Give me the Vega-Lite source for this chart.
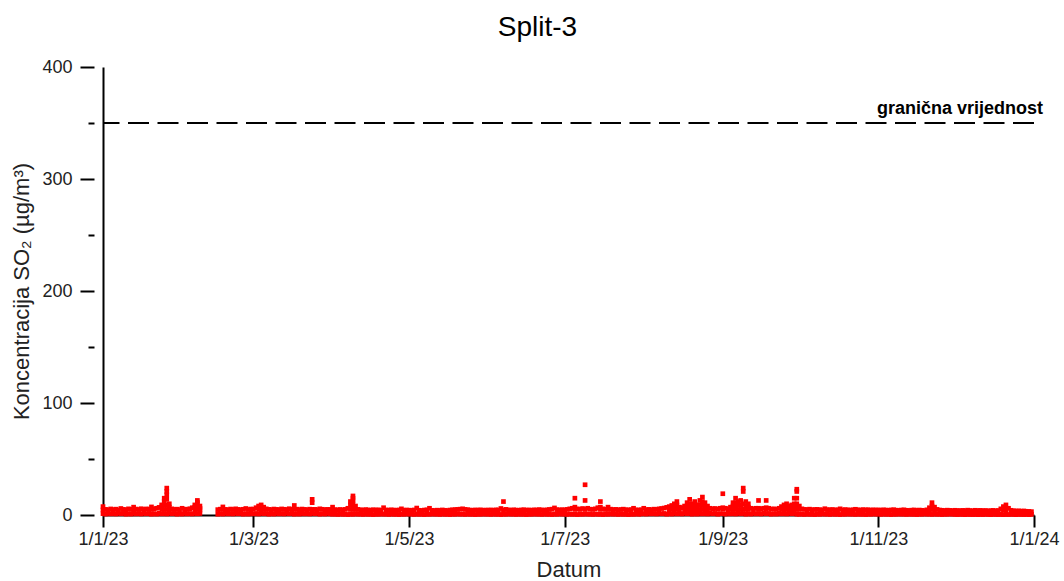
{
"$schema":"https://vega.github.io/schema/vega-lite/v6.json",
"autosize":{"type":"none"},
"padding":{"left":103,"top":67,"right":30,"bottom":66},
"width":931,"height":448,
"title":{"text":"Split-3","fontSize":28,"font":"Liberation Sans","fontWeight":"normal","color":"black","anchor":"middle","frame":"group","dx":-31,"offset":16},
"config":{"font":"Liberation Sans","view":{"stroke":null},"axis":{"grid":false}},
"resolve":{"axis":{"y":"independent"}},
"layer":[
{"data":{"values":[
{"t":"2023-01-01","v":7.5},{"t":"2023-01-01","v":1.2},{"t":"2023-01-02","v":5.0},{"t":"2023-01-02","v":0.8},{"t":"2023-01-03","v":4.6},{"t":"2023-01-03","v":1.5},{"t":"2023-01-04","v":5.4},{"t":"2023-01-04","v":1.0},{"t":"2023-01-05","v":4.8},{"t":"2023-01-05","v":1.3},{"t":"2023-01-06","v":5.2},{"t":"2023-01-06","v":0.9},{"t":"2023-01-07","v":4.5},{"t":"2023-01-07","v":1.6},{"t":"2023-01-08","v":5.8},{"t":"2023-01-08","v":1.1},{"t":"2023-01-09","v":5.0},{"t":"2023-01-09","v":1.4},{"t":"2023-01-10","v":4.7},{"t":"2023-01-10","v":0.7},
{"t":"2023-01-11","v":5.5},{"t":"2023-01-11","v":1.2},{"t":"2023-01-12","v":5.1},{"t":"2023-01-12","v":0.8},{"t":"2023-01-13","v":7.0},{"t":"2023-01-13","v":1.5},{"t":"2023-01-14","v":5.3},{"t":"2023-01-14","v":1.0},{"t":"2023-01-15","v":4.9},{"t":"2023-01-15","v":1.3},{"t":"2023-01-16","v":5.6},{"t":"2023-01-16","v":0.9},{"t":"2023-01-17","v":5.0},{"t":"2023-01-17","v":1.6},{"t":"2023-01-18","v":5.4},{"t":"2023-01-18","v":1.1},{"t":"2023-01-19","v":5.2},{"t":"2023-01-19","v":1.4},{"t":"2023-01-20","v":7.2},{"t":"2023-01-20","v":0.7},
{"t":"2023-01-21","v":5.5},{"t":"2023-01-21","v":1.2},{"t":"2023-01-22","v":6.0},{"t":"2023-01-22","v":0.8},{"t":"2023-01-23","v":6.8},{"t":"2023-01-23","v":1.5},{"t":"2023-01-24","v":9.0},{"t":"2023-01-24","v":1.0},{"t":"2023-01-25","v":12.0},{"t":"2023-01-25","v":1.3},{"t":"2023-01-26","v":24.0},{"t":"2023-01-26","v":0.9},{"t":"2023-01-27","v":10.0},{"t":"2023-01-27","v":1.6},{"t":"2023-01-28","v":5.5},{"t":"2023-01-28","v":1.1},{"t":"2023-01-29","v":5.0},{"t":"2023-01-29","v":1.4},{"t":"2023-01-30","v":5.2},{"t":"2023-01-30","v":0.7},{"t":"2023-01-31","v":4.8},{"t":"2023-01-31","v":1.2},
{"t":"2023-02-01","v":6.0},{"t":"2023-02-01","v":0.8},{"t":"2023-02-02","v":5.2},{"t":"2023-02-02","v":1.5},{"t":"2023-02-03","v":5.0},{"t":"2023-02-03","v":1.0},{"t":"2023-02-04","v":5.6},{"t":"2023-02-04","v":1.3},{"t":"2023-02-05","v":6.5},{"t":"2023-02-05","v":0.9},{"t":"2023-02-06","v":9.0},{"t":"2023-02-06","v":1.6},{"t":"2023-02-07","v":13.0},{"t":"2023-02-07","v":1.1},{"t":"2023-02-08","v":8.0},{"t":"2023-02-08","v":1.4},
{"t":"2023-02-15","v":4.8},{"t":"2023-02-15","v":0.7},{"t":"2023-02-16","v":5.2},{"t":"2023-02-16","v":1.2},{"t":"2023-02-17","v":7.2},{"t":"2023-02-17","v":0.8},{"t":"2023-02-18","v":5.0},{"t":"2023-02-18","v":1.5},{"t":"2023-02-19","v":4.6},{"t":"2023-02-19","v":1.0},{"t":"2023-02-20","v":5.3},{"t":"2023-02-20","v":1.3},{"t":"2023-02-21","v":4.9},{"t":"2023-02-21","v":0.9},{"t":"2023-02-22","v":5.5},{"t":"2023-02-22","v":1.6},{"t":"2023-02-23","v":5.0},{"t":"2023-02-23","v":1.1},{"t":"2023-02-24","v":4.7},{"t":"2023-02-24","v":1.4},{"t":"2023-02-25","v":5.1},{"t":"2023-02-25","v":0.7},{"t":"2023-02-26","v":5.8},{"t":"2023-02-26","v":1.2},{"t":"2023-02-27","v":4.9},{"t":"2023-02-27","v":0.8},{"t":"2023-02-28","v":5.3},{"t":"2023-02-28","v":1.5},
{"t":"2023-03-01","v":5.2},{"t":"2023-03-01","v":1.0},{"t":"2023-03-02","v":6.5},{"t":"2023-03-02","v":1.3},{"t":"2023-03-03","v":8.0},{"t":"2023-03-03","v":0.9},{"t":"2023-03-04","v":9.0},{"t":"2023-03-04","v":1.6},{"t":"2023-03-05","v":7.0},{"t":"2023-03-05","v":1.1},{"t":"2023-03-06","v":5.5},{"t":"2023-03-06","v":1.4},{"t":"2023-03-07","v":5.0},{"t":"2023-03-07","v":0.7},{"t":"2023-03-08","v":4.8},{"t":"2023-03-08","v":1.2},{"t":"2023-03-09","v":5.3},{"t":"2023-03-09","v":0.8},{"t":"2023-03-10","v":5.0},{"t":"2023-03-10","v":1.5},
{"t":"2023-03-11","v":4.7},{"t":"2023-03-11","v":1.0},{"t":"2023-03-12","v":5.4},{"t":"2023-03-12","v":1.3},{"t":"2023-03-13","v":5.1},{"t":"2023-03-13","v":0.9},{"t":"2023-03-14","v":4.9},{"t":"2023-03-14","v":1.6},{"t":"2023-03-15","v":5.6},{"t":"2023-03-15","v":1.1},{"t":"2023-03-16","v":5.0},{"t":"2023-03-16","v":1.4},{"t":"2023-03-17","v":8.5},{"t":"2023-03-17","v":0.7},{"t":"2023-03-18","v":5.2},{"t":"2023-03-18","v":1.2},{"t":"2023-03-19","v":4.8},{"t":"2023-03-19","v":0.8},{"t":"2023-03-20","v":5.3},{"t":"2023-03-20","v":1.5},
{"t":"2023-03-21","v":5.0},{"t":"2023-03-21","v":1.0},{"t":"2023-03-22","v":4.6},{"t":"2023-03-22","v":1.3},{"t":"2023-03-23","v":5.2},{"t":"2023-03-23","v":0.9},{"t":"2023-03-24","v":14.0},{"t":"2023-03-24","v":1.6},{"t":"2023-03-25","v":5.0},{"t":"2023-03-25","v":1.1},{"t":"2023-03-26","v":4.8},{"t":"2023-03-26","v":1.4},{"t":"2023-03-27","v":5.5},{"t":"2023-03-27","v":0.7},{"t":"2023-03-28","v":5.1},{"t":"2023-03-28","v":1.2},{"t":"2023-03-29","v":4.7},{"t":"2023-03-29","v":0.8},{"t":"2023-03-30","v":5.0},{"t":"2023-03-30","v":1.5},{"t":"2023-03-31","v":4.9},{"t":"2023-03-31","v":1.0},
{"t":"2023-04-01","v":7.0},{"t":"2023-04-01","v":0.7},{"t":"2023-04-02","v":4.8},{"t":"2023-04-02","v":0.9},{"t":"2023-04-03","v":4.5},{"t":"2023-04-03","v":0.5},{"t":"2023-04-04","v":4.9},{"t":"2023-04-04","v":1.0},{"t":"2023-04-05","v":4.6},{"t":"2023-04-05","v":0.6},{"t":"2023-04-06","v":5.0},{"t":"2023-04-06","v":0.8},{"t":"2023-04-07","v":6.0},{"t":"2023-04-07","v":0.4},{"t":"2023-04-08","v":12.0},{"t":"2023-04-08","v":0.9},{"t":"2023-04-09","v":17.0},{"t":"2023-04-09","v":0.6},{"t":"2023-04-10","v":8.0},{"t":"2023-04-10","v":1.1},
{"t":"2023-04-11","v":5.0},{"t":"2023-04-11","v":0.7},{"t":"2023-04-12","v":4.6},{"t":"2023-04-12","v":0.9},{"t":"2023-04-13","v":4.4},{"t":"2023-04-13","v":0.5},{"t":"2023-04-14","v":4.8},{"t":"2023-04-14","v":1.0},{"t":"2023-04-15","v":4.5},{"t":"2023-04-15","v":0.6},{"t":"2023-04-16","v":4.3},{"t":"2023-04-16","v":0.8},{"t":"2023-04-17","v":4.7},{"t":"2023-04-17","v":0.4},{"t":"2023-04-18","v":4.4},{"t":"2023-04-18","v":0.9},{"t":"2023-04-19","v":4.6},{"t":"2023-04-19","v":0.6},{"t":"2023-04-20","v":4.2},{"t":"2023-04-20","v":1.1},
{"t":"2023-04-21","v":6.5},{"t":"2023-04-21","v":0.7},{"t":"2023-04-22","v":4.5},{"t":"2023-04-22","v":0.9},{"t":"2023-04-23","v":4.3},{"t":"2023-04-23","v":0.5},{"t":"2023-04-24","v":4.6},{"t":"2023-04-24","v":1.0},{"t":"2023-04-25","v":4.4},{"t":"2023-04-25","v":0.6},{"t":"2023-04-26","v":4.2},{"t":"2023-04-26","v":0.8},{"t":"2023-04-27","v":4.5},{"t":"2023-04-27","v":0.4},{"t":"2023-04-28","v":5.5},{"t":"2023-04-28","v":0.9},{"t":"2023-04-29","v":4.3},{"t":"2023-04-29","v":0.6},{"t":"2023-04-30","v":4.4},{"t":"2023-04-30","v":1.1},
{"t":"2023-05-01","v":4.3},{"t":"2023-05-01","v":0.7},{"t":"2023-05-02","v":4.1},{"t":"2023-05-02","v":0.9},{"t":"2023-05-03","v":4.5},{"t":"2023-05-03","v":0.5},{"t":"2023-05-04","v":6.2},{"t":"2023-05-04","v":1.0},{"t":"2023-05-05","v":4.2},{"t":"2023-05-05","v":0.6},{"t":"2023-05-06","v":4.0},{"t":"2023-05-06","v":0.8},{"t":"2023-05-07","v":4.4},{"t":"2023-05-07","v":0.4},{"t":"2023-05-08","v":4.6},{"t":"2023-05-08","v":0.9},{"t":"2023-05-09","v":6.0},{"t":"2023-05-09","v":0.6},{"t":"2023-05-10","v":4.2},{"t":"2023-05-10","v":1.1},
{"t":"2023-05-11","v":4.0},{"t":"2023-05-11","v":0.7},{"t":"2023-05-12","v":4.3},{"t":"2023-05-12","v":0.9},{"t":"2023-05-13","v":4.1},{"t":"2023-05-13","v":0.5},{"t":"2023-05-14","v":4.5},{"t":"2023-05-14","v":1.0},{"t":"2023-05-15","v":4.2},{"t":"2023-05-15","v":0.6},{"t":"2023-05-16","v":4.0},{"t":"2023-05-16","v":0.8},{"t":"2023-05-17","v":4.4},{"t":"2023-05-17","v":0.4},{"t":"2023-05-18","v":4.6},{"t":"2023-05-18","v":0.9},{"t":"2023-05-19","v":4.8},{"t":"2023-05-19","v":0.6},{"t":"2023-05-20","v":5.0},{"t":"2023-05-20","v":1.1},
{"t":"2023-05-21","v":5.2},{"t":"2023-05-21","v":0.7},{"t":"2023-05-22","v":5.5},{"t":"2023-05-22","v":0.9},{"t":"2023-05-23","v":5.0},{"t":"2023-05-23","v":0.5},{"t":"2023-05-24","v":4.7},{"t":"2023-05-24","v":1.0},{"t":"2023-05-25","v":4.4},{"t":"2023-05-25","v":0.6},{"t":"2023-05-26","v":4.2},{"t":"2023-05-26","v":0.8},{"t":"2023-05-27","v":4.5},{"t":"2023-05-27","v":0.4},{"t":"2023-05-28","v":4.3},{"t":"2023-05-28","v":0.9},{"t":"2023-05-29","v":4.6},{"t":"2023-05-29","v":0.6},{"t":"2023-05-30","v":4.2},{"t":"2023-05-30","v":1.1},{"t":"2023-05-31","v":4.4},{"t":"2023-05-31","v":0.7},
{"t":"2023-06-01","v":4.3},{"t":"2023-06-01","v":0.9},{"t":"2023-06-02","v":4.5},{"t":"2023-06-02","v":0.5},{"t":"2023-06-03","v":4.2},{"t":"2023-06-03","v":1.0},{"t":"2023-06-04","v":4.6},{"t":"2023-06-04","v":0.6},{"t":"2023-06-05","v":4.4},{"t":"2023-06-05","v":0.8},{"t":"2023-06-06","v":5.8},{"t":"2023-06-06","v":0.4},{"t":"2023-06-07","v":12.0},{"t":"2023-06-07","v":0.9},{"t":"2023-06-08","v":5.0},{"t":"2023-06-08","v":0.6},{"t":"2023-06-09","v":4.5},{"t":"2023-06-09","v":1.1},{"t":"2023-06-10","v":4.3},{"t":"2023-06-10","v":0.7},
{"t":"2023-06-11","v":4.6},{"t":"2023-06-11","v":0.9},{"t":"2023-06-12","v":4.4},{"t":"2023-06-12","v":0.5},{"t":"2023-06-13","v":4.2},{"t":"2023-06-13","v":1.0},{"t":"2023-06-14","v":4.5},{"t":"2023-06-14","v":0.6},{"t":"2023-06-15","v":4.7},{"t":"2023-06-15","v":0.8},{"t":"2023-06-16","v":4.3},{"t":"2023-06-16","v":0.4},{"t":"2023-06-17","v":4.5},{"t":"2023-06-17","v":0.9},{"t":"2023-06-18","v":4.2},{"t":"2023-06-18","v":0.6},{"t":"2023-06-19","v":4.6},{"t":"2023-06-19","v":1.1},{"t":"2023-06-20","v":4.4},{"t":"2023-06-20","v":0.7},
{"t":"2023-06-21","v":4.8},{"t":"2023-06-21","v":0.9},{"t":"2023-06-22","v":4.5},{"t":"2023-06-22","v":0.5},{"t":"2023-06-23","v":4.3},{"t":"2023-06-23","v":1.0},{"t":"2023-06-24","v":4.6},{"t":"2023-06-24","v":0.6},{"t":"2023-06-25","v":4.9},{"t":"2023-06-25","v":0.8},{"t":"2023-06-26","v":5.2},{"t":"2023-06-26","v":0.4},{"t":"2023-06-27","v":6.3},{"t":"2023-06-27","v":0.9},{"t":"2023-06-28","v":4.8},{"t":"2023-06-28","v":0.6},{"t":"2023-06-29","v":4.5},{"t":"2023-06-29","v":1.1},{"t":"2023-06-30","v":4.7},{"t":"2023-06-30","v":0.7},
{"t":"2023-07-01","v":4.6},{"t":"2023-07-01","v":0.9},{"t":"2023-07-02","v":5.0},{"t":"2023-07-02","v":0.5},{"t":"2023-07-03","v":5.5},{"t":"2023-07-03","v":1.0},{"t":"2023-07-04","v":6.0},{"t":"2023-07-04","v":0.6},{"t":"2023-07-05","v":15.0},{"t":"2023-07-05","v":0.8},{"t":"2023-07-06","v":5.5},{"t":"2023-07-06","v":0.4},{"t":"2023-07-07","v":5.0},{"t":"2023-07-07","v":0.9},{"t":"2023-07-08","v":5.8},{"t":"2023-07-08","v":0.6},{"t":"2023-07-09","v":27.0},{"t":"2023-07-09","v":1.1},{"t":"2023-07-10","v":6.0},{"t":"2023-07-10","v":0.7},
{"t":"2023-07-11","v":5.2},{"t":"2023-07-11","v":0.9},{"t":"2023-07-12","v":5.0},{"t":"2023-07-12","v":0.5},{"t":"2023-07-13","v":5.5},{"t":"2023-07-13","v":1.0},{"t":"2023-07-14","v":6.5},{"t":"2023-07-14","v":0.6},{"t":"2023-07-15","v":12.0},{"t":"2023-07-15","v":0.8},{"t":"2023-07-16","v":5.5},{"t":"2023-07-16","v":0.4},{"t":"2023-07-17","v":5.0},{"t":"2023-07-17","v":0.9},{"t":"2023-07-18","v":7.0},{"t":"2023-07-18","v":0.6},{"t":"2023-07-19","v":5.2},{"t":"2023-07-19","v":1.1},{"t":"2023-07-20","v":4.8},{"t":"2023-07-20","v":0.7},
{"t":"2023-07-21","v":5.0},{"t":"2023-07-21","v":0.9},{"t":"2023-07-22","v":4.6},{"t":"2023-07-22","v":0.5},{"t":"2023-07-23","v":4.9},{"t":"2023-07-23","v":1.0},{"t":"2023-07-24","v":5.2},{"t":"2023-07-24","v":0.6},{"t":"2023-07-25","v":4.7},{"t":"2023-07-25","v":0.8},{"t":"2023-07-26","v":4.5},{"t":"2023-07-26","v":0.4},{"t":"2023-07-27","v":4.8},{"t":"2023-07-27","v":0.9},{"t":"2023-07-28","v":6.0},{"t":"2023-07-28","v":0.6},{"t":"2023-07-29","v":4.6},{"t":"2023-07-29","v":1.1},{"t":"2023-07-30","v":4.4},{"t":"2023-07-30","v":0.7},{"t":"2023-07-31","v":4.7},{"t":"2023-07-31","v":0.9},
{"t":"2023-08-01","v":6.0},{"t":"2023-08-01","v":1.2},{"t":"2023-08-02","v":4.8},{"t":"2023-08-02","v":0.8},{"t":"2023-08-03","v":5.0},{"t":"2023-08-03","v":1.5},{"t":"2023-08-04","v":4.7},{"t":"2023-08-04","v":1.0},{"t":"2023-08-05","v":5.2},{"t":"2023-08-05","v":1.3},{"t":"2023-08-06","v":5.0},{"t":"2023-08-06","v":0.9},{"t":"2023-08-07","v":5.5},{"t":"2023-08-07","v":1.6},{"t":"2023-08-08","v":5.8},{"t":"2023-08-08","v":1.1},{"t":"2023-08-09","v":6.2},{"t":"2023-08-09","v":1.4},{"t":"2023-08-10","v":6.8},{"t":"2023-08-10","v":0.7},
{"t":"2023-08-11","v":7.5},{"t":"2023-08-11","v":1.2},{"t":"2023-08-12","v":8.5},{"t":"2023-08-12","v":0.8},{"t":"2023-08-13","v":10.0},{"t":"2023-08-13","v":1.5},{"t":"2023-08-14","v":12.0},{"t":"2023-08-14","v":1.0},{"t":"2023-08-15","v":7.0},{"t":"2023-08-15","v":1.3},{"t":"2023-08-16","v":6.5},{"t":"2023-08-16","v":0.9},{"t":"2023-08-17","v":8.0},{"t":"2023-08-17","v":1.6},{"t":"2023-08-18","v":11.0},{"t":"2023-08-18","v":1.1},{"t":"2023-08-19","v":14.0},{"t":"2023-08-19","v":1.4},{"t":"2023-08-20","v":10.0},{"t":"2023-08-20","v":0.7},
{"t":"2023-08-21","v":12.0},{"t":"2023-08-21","v":1.2},{"t":"2023-08-22","v":9.0},{"t":"2023-08-22","v":0.8},{"t":"2023-08-23","v":13.0},{"t":"2023-08-23","v":1.5},{"t":"2023-08-24","v":16.0},{"t":"2023-08-24","v":1.0},{"t":"2023-08-25","v":11.0},{"t":"2023-08-25","v":1.3},{"t":"2023-08-26","v":8.0},{"t":"2023-08-26","v":0.9},{"t":"2023-08-27","v":6.0},{"t":"2023-08-27","v":1.6},{"t":"2023-08-28","v":5.5},{"t":"2023-08-28","v":1.1},{"t":"2023-08-29","v":5.8},{"t":"2023-08-29","v":1.4},{"t":"2023-08-30","v":5.2},{"t":"2023-08-30","v":0.7},{"t":"2023-08-31","v":6.0},{"t":"2023-08-31","v":1.2},
{"t":"2023-09-01","v":19.0},{"t":"2023-09-01","v":1.2},{"t":"2023-09-02","v":6.0},{"t":"2023-09-02","v":0.8},{"t":"2023-09-03","v":5.5},{"t":"2023-09-03","v":1.5},{"t":"2023-09-04","v":7.0},{"t":"2023-09-04","v":1.0},{"t":"2023-09-05","v":11.0},{"t":"2023-09-05","v":1.3},{"t":"2023-09-06","v":15.0},{"t":"2023-09-06","v":0.9},{"t":"2023-09-07","v":12.0},{"t":"2023-09-07","v":1.6},{"t":"2023-09-08","v":13.0},{"t":"2023-09-08","v":1.1},{"t":"2023-09-09","v":24.0},{"t":"2023-09-09","v":1.4},{"t":"2023-09-10","v":12.0},{"t":"2023-09-10","v":0.7},
{"t":"2023-09-11","v":10.0},{"t":"2023-09-11","v":1.2},{"t":"2023-09-12","v":6.0},{"t":"2023-09-12","v":0.8},{"t":"2023-09-13","v":5.5},{"t":"2023-09-13","v":1.5},{"t":"2023-09-14","v":6.0},{"t":"2023-09-14","v":1.0},{"t":"2023-09-15","v":13.0},{"t":"2023-09-15","v":1.3},{"t":"2023-09-16","v":5.5},{"t":"2023-09-16","v":0.9},{"t":"2023-09-17","v":6.0},{"t":"2023-09-17","v":1.6},{"t":"2023-09-18","v":13.0},{"t":"2023-09-18","v":1.1},{"t":"2023-09-19","v":6.0},{"t":"2023-09-19","v":1.4},{"t":"2023-09-20","v":5.2},{"t":"2023-09-20","v":0.7},
{"t":"2023-09-21","v":5.5},{"t":"2023-09-21","v":1.2},{"t":"2023-09-22","v":5.0},{"t":"2023-09-22","v":0.8},{"t":"2023-09-23","v":6.0},{"t":"2023-09-23","v":1.5},{"t":"2023-09-24","v":7.5},{"t":"2023-09-24","v":1.0},{"t":"2023-09-25","v":9.0},{"t":"2023-09-25","v":1.3},{"t":"2023-09-26","v":10.0},{"t":"2023-09-26","v":0.9},{"t":"2023-09-27","v":8.0},{"t":"2023-09-27","v":1.6},{"t":"2023-09-28","v":9.0},{"t":"2023-09-28","v":1.1},{"t":"2023-09-29","v":15.0},{"t":"2023-09-29","v":1.4},{"t":"2023-09-30","v":23.0},{"t":"2023-09-30","v":0.7},
{"t":"2023-10-01","v":8.0},{"t":"2023-10-01","v":0.7},{"t":"2023-10-02","v":5.5},{"t":"2023-10-02","v":0.9},{"t":"2023-10-03","v":5.0},{"t":"2023-10-03","v":0.5},{"t":"2023-10-04","v":4.8},{"t":"2023-10-04","v":1.0},{"t":"2023-10-05","v":5.2},{"t":"2023-10-05","v":0.6},{"t":"2023-10-06","v":4.6},{"t":"2023-10-06","v":0.8},{"t":"2023-10-07","v":4.9},{"t":"2023-10-07","v":0.4},{"t":"2023-10-08","v":5.0},{"t":"2023-10-08","v":0.9},{"t":"2023-10-09","v":4.7},{"t":"2023-10-09","v":0.6},{"t":"2023-10-10","v":4.5},{"t":"2023-10-10","v":1.1},
{"t":"2023-10-11","v":5.6},{"t":"2023-10-11","v":0.7},{"t":"2023-10-12","v":4.8},{"t":"2023-10-12","v":0.9},{"t":"2023-10-13","v":4.6},{"t":"2023-10-13","v":0.5},{"t":"2023-10-14","v":4.9},{"t":"2023-10-14","v":1.0},{"t":"2023-10-15","v":4.4},{"t":"2023-10-15","v":0.6},{"t":"2023-10-16","v":4.7},{"t":"2023-10-16","v":0.8},{"t":"2023-10-17","v":5.5},{"t":"2023-10-17","v":0.4},{"t":"2023-10-18","v":4.5},{"t":"2023-10-18","v":0.9},{"t":"2023-10-19","v":4.8},{"t":"2023-10-19","v":0.6},{"t":"2023-10-20","v":4.6},{"t":"2023-10-20","v":1.1},
{"t":"2023-10-21","v":4.3},{"t":"2023-10-21","v":0.7},{"t":"2023-10-22","v":4.7},{"t":"2023-10-22","v":0.9},{"t":"2023-10-23","v":5.1},{"t":"2023-10-23","v":0.5},{"t":"2023-10-24","v":4.6},{"t":"2023-10-24","v":1.0},{"t":"2023-10-25","v":4.4},{"t":"2023-10-25","v":0.6},{"t":"2023-10-26","v":4.8},{"t":"2023-10-26","v":0.8},{"t":"2023-10-27","v":4.5},{"t":"2023-10-27","v":0.4},{"t":"2023-10-28","v":4.7},{"t":"2023-10-28","v":0.9},{"t":"2023-10-29","v":4.3},{"t":"2023-10-29","v":0.6},{"t":"2023-10-30","v":4.6},{"t":"2023-10-30","v":1.1},{"t":"2023-10-31","v":4.4},{"t":"2023-10-31","v":0.7},
{"t":"2023-11-01","v":4.5},{"t":"2023-11-01","v":0.9},{"t":"2023-11-02","v":4.3},{"t":"2023-11-02","v":0.5},{"t":"2023-11-03","v":4.6},{"t":"2023-11-03","v":1.0},{"t":"2023-11-04","v":4.4},{"t":"2023-11-04","v":0.6},{"t":"2023-11-05","v":4.2},{"t":"2023-11-05","v":0.8},{"t":"2023-11-06","v":4.5},{"t":"2023-11-06","v":0.4},{"t":"2023-11-07","v":4.7},{"t":"2023-11-07","v":0.9},{"t":"2023-11-08","v":4.3},{"t":"2023-11-08","v":0.6},{"t":"2023-11-09","v":4.1},{"t":"2023-11-09","v":1.1},{"t":"2023-11-10","v":4.4},{"t":"2023-11-10","v":0.7},
{"t":"2023-11-11","v":4.6},{"t":"2023-11-11","v":0.9},{"t":"2023-11-12","v":4.2},{"t":"2023-11-12","v":0.5},{"t":"2023-11-13","v":4.0},{"t":"2023-11-13","v":1.0},{"t":"2023-11-14","v":4.3},{"t":"2023-11-14","v":0.6},{"t":"2023-11-15","v":4.5},{"t":"2023-11-15","v":0.8},{"t":"2023-11-16","v":4.1},{"t":"2023-11-16","v":0.4},{"t":"2023-11-17","v":4.4},{"t":"2023-11-17","v":0.9},{"t":"2023-11-18","v":4.2},{"t":"2023-11-18","v":0.6},{"t":"2023-11-19","v":4.0},{"t":"2023-11-19","v":1.1},{"t":"2023-11-20","v":4.6},{"t":"2023-11-20","v":0.7},
{"t":"2023-11-21","v":6.5},{"t":"2023-11-21","v":0.9},{"t":"2023-11-22","v":11.0},{"t":"2023-11-22","v":0.5},{"t":"2023-11-23","v":7.0},{"t":"2023-11-23","v":1.0},{"t":"2023-11-24","v":5.0},{"t":"2023-11-24","v":0.6},{"t":"2023-11-25","v":4.4},{"t":"2023-11-25","v":0.8},{"t":"2023-11-26","v":4.2},{"t":"2023-11-26","v":0.4},{"t":"2023-11-27","v":4.0},{"t":"2023-11-27","v":0.9},{"t":"2023-11-28","v":4.3},{"t":"2023-11-28","v":0.6},{"t":"2023-11-29","v":4.1},{"t":"2023-11-29","v":1.1},{"t":"2023-11-30","v":3.9},{"t":"2023-11-30","v":0.7},
{"t":"2023-12-01","v":4.2},{"t":"2023-12-01","v":0.6},{"t":"2023-12-02","v":4.0},{"t":"2023-12-02","v":0.4},{"t":"2023-12-03","v":3.8},{"t":"2023-12-03","v":0.8},{"t":"2023-12-04","v":4.1},{"t":"2023-12-04","v":0.5},{"t":"2023-12-05","v":3.9},{"t":"2023-12-05","v":0.3},{"t":"2023-12-06","v":4.3},{"t":"2023-12-06","v":0.7},{"t":"2023-12-07","v":4.0},{"t":"2023-12-07","v":0.5},{"t":"2023-12-08","v":3.7},{"t":"2023-12-08","v":0.4},{"t":"2023-12-09","v":4.2},{"t":"2023-12-09","v":0.6},{"t":"2023-12-10","v":3.9},{"t":"2023-12-10","v":0.3},
{"t":"2023-12-11","v":4.1},{"t":"2023-12-11","v":0.6},{"t":"2023-12-12","v":3.8},{"t":"2023-12-12","v":0.4},{"t":"2023-12-13","v":4.0},{"t":"2023-12-13","v":0.8},{"t":"2023-12-14","v":3.6},{"t":"2023-12-14","v":0.5},{"t":"2023-12-15","v":3.9},{"t":"2023-12-15","v":0.3},{"t":"2023-12-16","v":4.1},{"t":"2023-12-16","v":0.7},{"t":"2023-12-17","v":3.7},{"t":"2023-12-17","v":0.5},{"t":"2023-12-18","v":4.0},{"t":"2023-12-18","v":0.4},{"t":"2023-12-19","v":5.5},{"t":"2023-12-19","v":0.6},{"t":"2023-12-20","v":7.5},{"t":"2023-12-20","v":0.3},
{"t":"2023-12-21","v":9.0},{"t":"2023-12-21","v":0.6},{"t":"2023-12-22","v":6.0},{"t":"2023-12-22","v":0.4},{"t":"2023-12-23","v":4.2},{"t":"2023-12-23","v":0.8},{"t":"2023-12-24","v":3.8},{"t":"2023-12-24","v":0.5},{"t":"2023-12-25","v":3.5},{"t":"2023-12-25","v":0.3},{"t":"2023-12-26","v":3.7},{"t":"2023-12-26","v":0.7},{"t":"2023-12-27","v":3.4},{"t":"2023-12-27","v":0.5},{"t":"2023-12-28","v":3.6},{"t":"2023-12-28","v":0.4},{"t":"2023-12-29","v":3.3},{"t":"2023-12-29","v":0.6},{"t":"2023-12-30","v":3.2},{"t":"2023-12-30","v":0.3},{"t":"2023-12-31","v":3.0},{"t":"2023-12-31","v":0.6},
{"t":"2023-01-01","v":4.5},{"t":"2023-01-13","v":5.0},{"t":"2023-01-20","v":5.0},{"t":"2023-01-24","v":7.0},{"t":"2023-01-24","v":5.0},{"t":"2023-01-25","v":15.0},{"t":"2023-01-25","v":9.0},{"t":"2023-01-25","v":5.0},{"t":"2023-01-26","v":21.0},{"t":"2023-01-26","v":18.0},{"t":"2023-01-26","v":14.0},{"t":"2023-01-26","v":9.0},{"t":"2023-01-26","v":5.0},{"t":"2023-01-27","v":7.0},{"t":"2023-01-27","v":5.0},
{"t":"2023-02-06","v":7.0},{"t":"2023-02-06","v":5.0},{"t":"2023-02-07","v":11.5},{"t":"2023-02-07","v":10.0},{"t":"2023-02-07","v":7.0},{"t":"2023-02-07","v":5.0},{"t":"2023-02-08","v":6.0},{"t":"2023-02-08","v":4.5},{"t":"2023-02-17","v":5.0},
{"t":"2023-03-03","v":5.0},{"t":"2023-03-04","v":7.0},{"t":"2023-03-04","v":5.0},{"t":"2023-03-05","v":5.0},{"t":"2023-03-17","v":5.0},{"t":"2023-03-24","v":11.0},{"t":"2023-03-24","v":5.0},
{"t":"2023-04-01","v":4.5},{"t":"2023-04-08","v":9.0},{"t":"2023-04-08","v":5.0},{"t":"2023-04-09","v":15.0},{"t":"2023-04-09","v":13.0},{"t":"2023-04-09","v":10.0},{"t":"2023-04-09","v":7.0},{"t":"2023-04-09","v":5.0},{"t":"2023-04-10","v":5.0},
{"t":"2023-06-07","v":4.5},{"t":"2023-07-05","v":7.0},{"t":"2023-07-05","v":5.0},{"t":"2023-07-09","v":13.0},{"t":"2023-07-09","v":5.0},{"t":"2023-07-15","v":7.0},{"t":"2023-07-15","v":5.0},{"t":"2023-07-18","v":5.0},
{"t":"2023-08-11","v":4.5},{"t":"2023-08-12","v":5.0},{"t":"2023-08-13","v":8.0},{"t":"2023-08-13","v":5.0},{"t":"2023-08-14","v":9.0},{"t":"2023-08-14","v":5.5},{"t":"2023-08-15","v":4.5},{"t":"2023-08-17","v":5.0},{"t":"2023-08-18","v":8.0},{"t":"2023-08-18","v":5.0},{"t":"2023-08-19","v":10.0},{"t":"2023-08-19","v":7.0},{"t":"2023-08-19","v":4.5},{"t":"2023-08-20","v":7.0},{"t":"2023-08-20","v":4.5},{"t":"2023-08-21","v":9.0},{"t":"2023-08-21","v":6.5},{"t":"2023-08-21","v":4.0},{"t":"2023-08-22","v":6.0},{"t":"2023-08-22","v":4.0},{"t":"2023-08-23","v":9.0},{"t":"2023-08-23","v":5.0},{"t":"2023-08-24","v":12.0},{"t":"2023-08-24","v":9.0},{"t":"2023-08-24","v":5.0},{"t":"2023-08-25","v":7.5},{"t":"2023-08-25","v":4.5},{"t":"2023-08-26","v":4.5},
{"t":"2023-09-01","v":5.5},{"t":"2023-09-01","v":6.5},{"t":"2023-09-04","v":5.0},{"t":"2023-09-05","v":8.0},{"t":"2023-09-05","v":5.0},{"t":"2023-09-06","v":11.0},{"t":"2023-09-06","v":8.0},{"t":"2023-09-06","v":5.0},{"t":"2023-09-07","v":9.0},{"t":"2023-09-07","v":5.0},{"t":"2023-09-08","v":9.0},{"t":"2023-09-08","v":5.0},{"t":"2023-09-09","v":21.0},{"t":"2023-09-09","v":10.0},{"t":"2023-09-09","v":5.5},{"t":"2023-09-10","v":8.0},{"t":"2023-09-10","v":5.0},{"t":"2023-09-11","v":7.0},{"t":"2023-09-11","v":5.0},{"t":"2023-09-15","v":6.0},{"t":"2023-09-15","v":5.0},{"t":"2023-09-18","v":6.5},{"t":"2023-09-18","v":5.0},{"t":"2023-09-24","v":5.0},{"t":"2023-09-25","v":6.0},{"t":"2023-09-25","v":4.5},{"t":"2023-09-26","v":7.0},{"t":"2023-09-26","v":5.0},{"t":"2023-09-27","v":5.0},{"t":"2023-09-28","v":6.0},{"t":"2023-09-28","v":4.5},{"t":"2023-09-29","v":10.0},{"t":"2023-09-29","v":7.0},{"t":"2023-09-29","v":5.0},{"t":"2023-09-30","v":21.0},{"t":"2023-09-30","v":15.0},{"t":"2023-09-30","v":10.0},{"t":"2023-09-30","v":7.0},{"t":"2023-09-30","v":5.0},
{"t":"2023-10-01","v":5.0},{"t":"2023-11-21","v":4.0},{"t":"2023-11-22","v":8.0},{"t":"2023-11-22","v":5.0},{"t":"2023-11-23","v":4.5},{"t":"2023-12-20","v":4.5},{"t":"2023-12-21","v":6.0},{"t":"2023-12-21","v":4.0}
]},
"mark":{"type":"point","shape":"square","filled":true,"size":22,"color":"#ff0000","opacity":1,"strokeWidth":0},
"encoding":{
"x":{"field":"t","type":"temporal","scale":{"type":"utc","domain":[{"year":2023,"month":1,"date":1,"utc":true},{"year":2024,"month":1,"date":1,"utc":true}]},
"axis":{"values":[{"year":2023,"month":1,"date":1,"utc":true},{"year":2023,"month":3,"date":1,"utc":true},{"year":2023,"month":5,"date":1,"utc":true},{"year":2023,"month":7,"date":1,"utc":true},{"year":2023,"month":9,"date":1,"utc":true},{"year":2023,"month":11,"date":1,"utc":true},{"year":2024,"month":1,"date":1,"utc":true}],
"format":"%-d/%-m/%y","labelFlush":false,"labelOverlap":false,"tickSize":12,"tickWidth":2,"tickColor":"black","domainColor":"black","domainWidth":2,"labelFontSize":18,"labelColor":"#222222","labelPadding":3,"title":"Datum","titleFontSize":22,"titleFontWeight":"normal","titleColor":"#222222","titlePadding":11,"grid":false}},
"y":{"field":"v","type":"quantitative","scale":{"domain":[0,400],"nice":false},
"axis":{"orient":"left","offset":9,"values":[0,100,200,300,400],"domain":false,"tickSize":14,"tickWidth":2,"tickColor":"black","labelFontSize":18,"labelColor":"#222222","labelPadding":8,"title":"Koncentracija SO₂ (µg/m³)","titleFontSize":22,"titleFontWeight":"normal","titleColor":"#222222","titlePadding":8,"grid":false}}
}},
{"data":{"values":[{"v":350}]},
"mark":{"type":"rule","strokeDash":[21,8.5],"strokeWidth":2,"color":"black"},
"encoding":{"y":{"field":"v","type":"quantitative","axis":{"orient":"left","offset":9,"values":[50,150,250,350],"domain":false,"labels":false,"tickSize":6,"tickWidth":2,"tickColor":"black","title":null,"grid":false}}}},
{"data":{"values":[{"t":"2024-01-01","v":350,"label":"granična vrijednost"}]},
"mark":{"type":"text","align":"right","baseline":"alphabetic","dx":9,"dy":-9,"fontSize":18,"fontWeight":"bold","color":"black","font":"Liberation Sans"},
"encoding":{"x":{"field":"t","type":"temporal"},"y":{"field":"v","type":"quantitative","axis":{"orient":"left","offset":0,"domain":true,"domainColor":"black","domainWidth":2,"ticks":false,"labels":false,"title":null,"grid":false}},"text":{"field":"label"}}}
]
}
